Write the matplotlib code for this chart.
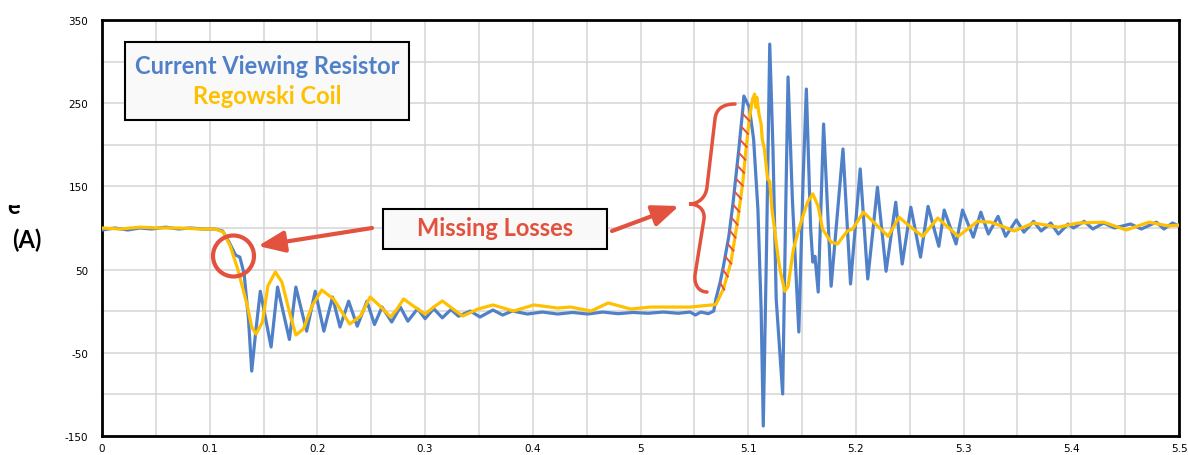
import numpy as np
import matplotlib.pyplot as plt
from matplotlib.patches import Rectangle, Circle, PathPatch
from matplotlib.path import Path
from matplotlib.transforms import Bbox

plt.rcParams["axes.unicode_minus"] = False

# x is the position along the (broken) time axis, tick labels below
tick_pos = [0.0, 0.1, 0.2, 0.3, 0.4, 0.5, 0.6, 0.7, 0.8, 0.9, 1.0]
tick_lbl = ["0", "0.1", "0.2", "0.3", "0.4", "5", "5.1", "5.2", "5.3", "5.4", "5.5"]
ytick_vals = [-150, -50, 50, 150, 250, 350]

# Current Viewing Resistor trace
cvr_x = [0.000, 0.012, 0.024, 0.035, 0.046, 0.059, 0.071, 0.082, 0.094, 0.105,
         0.112, 0.118, 0.124, 0.128, 0.132, 0.136, 0.139, 0.143, 0.147, 0.157,
         0.163, 0.174, 0.180, 0.190, 0.198, 0.206, 0.214, 0.221, 0.229, 0.237,
         0.246, 0.253, 0.260, 0.269, 0.277, 0.284, 0.293, 0.300, 0.308, 0.316,
         0.324, 0.331, 0.342, 0.351, 0.363, 0.372, 0.381, 0.395, 0.409, 0.423,
         0.437, 0.451, 0.465, 0.479, 0.493, 0.507, 0.521, 0.535, 0.546, 0.551,
         0.556, 0.563, 0.568, 0.570, 0.574, 0.577, 0.582, 0.586, 0.591, 0.595,
         0.596, 0.601, 0.605, 0.609, 0.612, 0.614, 0.617, 0.620, 0.623, 0.626,
         0.632, 0.635, 0.637, 0.641, 0.647, 0.651, 0.654, 0.658, 0.660, 0.662,
         0.665, 0.670, 0.677, 0.688, 0.695, 0.704, 0.711, 0.720, 0.728, 0.737,
         0.743, 0.751, 0.760, 0.767, 0.777, 0.782, 0.793, 0.799, 0.809, 0.816,
         0.823, 0.832, 0.839, 0.849, 0.856, 0.865, 0.872, 0.881, 0.888, 0.897,
         0.902, 0.912, 0.920, 0.930, 0.940, 0.955, 0.965, 0.979, 0.986, 0.994,
         1.000]
cvr_y = [97.6, 100.0, 97.6, 100.0, 98.8, 101.0, 98.8, 100.0, 98.8, 98.8,
         96.4, 83.0, 67.5, 65.0, 44.7, -9.4, -72.0, -21.4, 24.0, -43.0,
         29.0, -34.0, 29.0, -24.0, 24.0, -24.0, 17.0, -19.0, 12.0, -18.0,
         12.0, -16.0, 5.0, -13.0, 5.0, -12.0, 3.0, -9.0, 3.0, -8.0,
         2.0, -6.0, 0.2, -7.0, 1.4, -4.6, 0.2, -3.4, -1.0, -3.4,
         -1.5, -3.4, -1.0, -3.0, -1.5, -2.5, -1.0, -2.5, -1.0, -4.6,
         -1.0, -3.0, 0.2, 14.7, 35.0, 54.0, 90.0, 131.0, 191.0, 243.0,
         258.6, 245.0, 207.0, 123.0, 2.6, -138.0, 74.8, 321.0, 195.0, 14.7,
         -99.5, 134.9, 281.5, 135.0, -25.0, 159.0, 267.0, 98.8, 59.0, 66.0,
         23.0, 225.0, 30.0, 195.0, 32.7, 171.0, 38.7, 149.0, 48.0, 131.0,
         56.7, 125.0, 65.0, 126.0, 78.0, 121.6, 80.8, 121.6, 89.0, 119.0,
         92.8, 114.0, 90.0, 109.6, 95.0, 108.0, 96.4, 106.0, 92.8, 104.8,
         100.0, 108.0, 98.8, 106.0, 100.0, 104.8, 98.8, 107.0, 98.8, 106.0,
         102.5]

# Regowski Coil trace
rc_x = [0.000, 0.017, 0.035, 0.054, 0.072, 0.091, 0.105, 0.1125, 0.119, 0.126,
        0.135, 0.139, 0.143, 0.149, 0.154, 0.161, 0.167, 0.175, 0.180, 0.187,
        0.195, 0.204, 0.215, 0.230, 0.240, 0.249, 0.258, 0.268, 0.274, 0.280,
        0.289, 0.300, 0.308, 0.316, 0.326, 0.335, 0.349, 0.363, 0.382, 0.401,
        0.423, 0.435, 0.454, 0.470, 0.491, 0.509, 0.546, 0.570, 0.577, 0.584,
        0.590, 0.595, 0.598, 0.601, 0.604, 0.606, 0.607, 0.608, 0.610, 0.612,
        0.613, 0.615, 0.618, 0.620, 0.622, 0.626, 0.628, 0.630, 0.634, 0.637,
        0.642, 0.649, 0.655, 0.660, 0.665, 0.669, 0.677, 0.683, 0.692, 0.697,
        0.707, 0.718, 0.730, 0.740, 0.751, 0.762, 0.776, 0.795, 0.813, 0.825,
        0.835, 0.847, 0.865, 0.888, 0.906, 0.930, 0.951, 0.972, 0.990, 1.000]
rc_y = [100.0, 98.8, 101.0, 100.0, 100.0, 98.8, 98.8, 95.2, 78.4, 50.7,
        6.3, -19.0, -27.4, -13.0, 30.3, 47.1, 35.1, -5.8, -28.6, -21.4,
        6.3, 25.5, 14.7, -15.4, -5.8, 17.1, 6.3, -7.0, 2.6, 14.7,
        6.3, -3.4, 5.0, 12.3, 2.6, -5.8, 2.6, 7.5, 0.2, 7.5,
        3.8, 5.0, 0.2, 9.9, 2.6, 5.0, 5.0, 8.0, 26.7, 59.0,
        107.0, 155.0, 195.0, 231.0, 255.0, 261.0, 245.0, 257.0, 237.0, 225.0,
        207.0, 195.0, 159.0, 156.0, 123.0, 83.0, 62.7, 47.0, 24.0, 30.0,
        74.8, 107.0, 131.0, 141.0, 126.0, 98.8, 83.0, 80.8, 96.4, 98.8,
        119.0, 105.0, 90.0, 113.0, 101.0, 90.0, 112.0, 90.0, 108.0, 107.0,
        102.5, 96.4, 106.0, 101.0, 106.0, 107.0, 97.6, 107.0, 102.5, 103.6]

blue = "#5081C8"
gold = "#FFC000"
red = "#E2523E"

fig = plt.figure(figsize=(11.88, 4.56), dpi=100)
ax = fig.add_axes([102 / 1188, 19 / 456, 1077 / 1188, 416 / 456])

ax.plot(cvr_x, cvr_y, color=blue, lw=2.3, zorder=3, solid_joinstyle="round")
ax.plot(rc_x, rc_y, color=gold, lw=2.3, zorder=4, solid_joinstyle="round")

# red hatch between the rising edges ("missing losses")
bx = np.array(cvr_x)
by = np.array(cvr_y)
gx = np.array(rc_x)
gy = np.array(rc_y)
b_rise = (bx >= 0.568) & (bx <= 0.596)
g_rise = (gx >= 0.570) & (gx <= 0.606)
for lvl in np.arange(30, 245, 15.6):
    xb = np.interp(lvl, by[b_rise], bx[b_rise])
    xg = np.interp(lvl, gy[g_rise], gx[g_rise])
    ax.plot([xb + 0.001, xg], [lvl + 4, lvl - 4], color=red, lw=1.4, zorder=5)

ax.set_xlim(0, 1.0)
ax.set_ylim(-150, 350)
ax.set_xticks(tick_pos)
ax.set_xticklabels(tick_lbl)
ax.set_xticks(np.arange(0.05, 1.0, 0.1), minor=True)
ax.set_yticks(ytick_vals)
ax.set_yticks(np.arange(-100, 350, 100), minor=True)
ax.grid(True, which="both", color="#d4d4d4", lw=1.1, zorder=0)
ax.tick_params(which="both", length=0)
ax.tick_params(axis="y", pad=10, labelsize=7.5)
ax.tick_params(axis="x", pad=5, labelsize=7.5)
for s in ax.spines.values():
    s.set_color("black")
    s.set_linewidth(2.0)
ax.set_axisbelow(True)

# legend box
fig.patches.append(Rectangle((125, 335), 284, 78, transform=None,
                             facecolor="#f9f9f9", edgecolor="black", lw=1.5, zorder=5))
fig.text(267, 389, "Current Viewing Resistor", transform=None, ha="center", va="center",
         color=blue, fontsize=17, fontweight="bold", family="Lato", zorder=6)
fig.text(267, 359, "Regowski Coil", transform=None, ha="center", va="center",
         color=gold, fontsize=17, fontweight="bold", family="Lato", zorder=6)

# Missing Losses box
fig.patches.append(Rectangle((383, 206), 224, 40, transform=None,
                             facecolor="#f9f9f9", edgecolor="black", lw=1.5, zorder=5))
fig.text(495, 227, "Missing Losses", transform=None, ha="center", va="center",
         color=red, fontsize=17, fontweight="bold", family="Lato", zorder=6)

# arrows
ax.annotate("", xy=(258, 209), xycoords="figure pixels", xytext=(372, 227),
            textcoords="figure pixels",
            arrowprops=dict(arrowstyle="-|>,head_length=1.6,head_width=0.65",
                            color=red, lw=3, shrinkA=0, shrinkB=0))
ax.annotate("", xy=(679, 249), xycoords="figure pixels", xytext=(612, 224),
            textcoords="figure pixels",
            arrowprops=dict(arrowstyle="-|>,head_length=1.6,head_width=0.65",
                            color=red, lw=3, shrinkA=0, shrinkB=0))

# circle
fig.patches.append(Circle((233.5, 199), 20.5, transform=None, fill=False,
                          edgecolor=red, lw=3, zorder=6))

# brace
verts = [(735, 351), (723, 351), (716, 346), (715, 336), (707, 268),
         (706, 258), (699, 251), (689, 251),
         (699, 251), (705, 245), (704, 236), (695, 180),
         (694, 170), (699, 163), (707, 163)]
codes = [Path.MOVETO, Path.CURVE4, Path.CURVE4, Path.CURVE4, Path.LINETO,
         Path.CURVE4, Path.CURVE4, Path.CURVE4,
         Path.CURVE4, Path.CURVE4, Path.CURVE4, Path.LINETO,
         Path.CURVE4, Path.CURVE4, Path.CURVE4]
fig.patches.append(PathPatch(Path(verts, codes), transform=None, fill=False,
                             edgecolor=red, lw=2.5, capstyle="round", zorder=6))

# y label fragments (cut off in the original)
t = fig.text(14, 242, "e", transform=None, ha="center", va="baseline",
             fontsize=17, fontweight="bold", family="Lato")
t.set_clip_box(Bbox.from_extents(0, 0, 60, 250))
t.set_clip_on(True)
fig.text(27, 216, "(A)", transform=None, ha="center", va="center",
         fontsize=17, fontweight="bold", family="Lato")

plt.savefig("out.png", dpi=100)
